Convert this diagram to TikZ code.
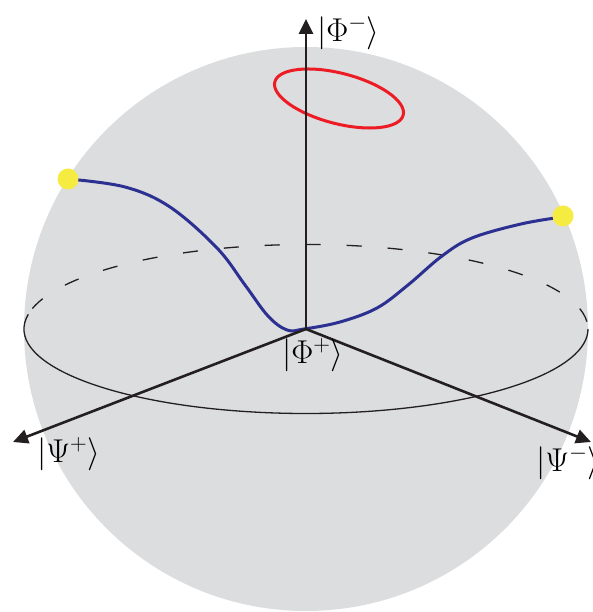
\RequirePackage{fix-cm}
\documentclass[tikz,border=0pt]{standalone}
\usetikzlibrary{arrows.meta}

\definecolor{spheregray}{RGB}{220,221,223}
\definecolor{axisblack}{RGB}{35,31,32}
\definecolor{pathblue}{RGB}{43,48,145}
\definecolor{loopred}{RGB}{237,28,36}
\definecolor{dotyellow}{RGB}{245,235,65}

\begin{document}
\begin{tikzpicture}[
  x={(1pt,0pt)}, y={(0pt,1pt)},
  axis/.style={line width=2.6pt, color=axisblack, -{Triangle[length=15pt,width=14pt]}},
  equator/.style={line width=1.3pt, color=axisblack},
  ket/.style={inner sep=0pt, anchor=west, font=\fontsize{33}{40}\selectfont},
  dot/.style={circle, fill=dotyellow, inner sep=0pt, minimum size=21pt}
]
\useasboundingbox (-306,-283) rectangle (286,329);

% ── Sphere ──────────────────────────────────────────────────────
\fill[spheregray] (0,0) circle[radius=282];

% ── Equator: back half dashed, front half solid ────────────────
\draw[equator, dash pattern=on 15pt off 26pt]
  (5:282 and 84.5) arc[start angle=5, end angle=166, x radius=282, y radius=84.5];
\draw[equator]
  (170:282 and 84.5) arc[start angle=170, end angle=360, x radius=282, y radius=84.5];

% ── Red loop near the pole ─────────────────────────────────────
\draw[loopred, line width=3pt, rotate around={-14.5:(33,230.5)}]
  (33,230.5) ellipse[x radius=66.3, y radius=25.2];

% ── Blue trajectory ────────────────────────────────────────────
\draw[pathblue, line width=3pt] plot[smooth, tension=0.6] coordinates {
  (-238,150) (-181,142) (-136,122) (-89,81) (-61,44) (-38,13)
  (-19,-1) (-2,0) (34,7) (71,21) (102,44) (136,73) (166,91)
  (215,105) (256,112)};

% ── Axes ───────────────────────────────────────────────────────
\coordinate (O) at (0,0);
\coordinate (phimtip) at (0,310);
\coordinate (psiptip) at (-293,-113);
\coordinate (psimtip) at (285,-113);
\draw[axis] (O) -- (phimtip);
\draw[axis] (O) -- (psiptip);
\draw[axis] (O) -- (psimtip);

% ── End points ─────────────────────────────────────────────────
\node[dot] (startdot) at (-238,150) {};
\node[dot] (enddot) at (257,113) {};

% ── Labels ─────────────────────────────────────────────────────
\node[ket] (phiminus) at (11,296) {$\vert\Phi^-\rangle$};
\node[ket] (phiplus) at (-24,-26) {$\vert\Phi^+\rangle$};
\node[ket] (psiplus) at (-269,-125) {$\vert\Psi^+\rangle$};
\node[ket] (psiminus) at (230,-134) {$\vert\Psi^-\rangle$};

\end{tikzpicture}
\end{document}
